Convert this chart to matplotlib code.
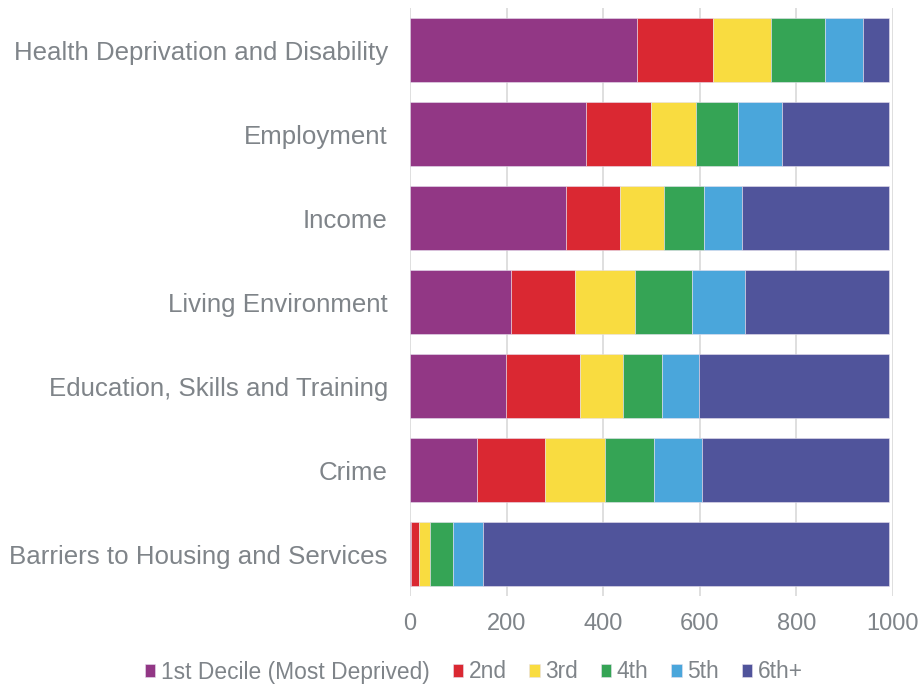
import matplotlib
matplotlib.use("Agg")
import matplotlib.pyplot as plt
import numpy as np

plt.rcParams['font.family'] = ['Liberation Sans', 'DejaVu Sans']

categories = [
    "Health Deprivation and Disability",
    "Employment",
    "Income",
    "Living Environment",
    "Education, Skills and Training",
    "Crime",
    "Barriers to Housing and Services",
]
series_names = ["1st Decile (Most Deprived)", "2nd", "3rd", "4th", "5th", "6th+"]
first = [470, 365, 322, 209, 198, 139, 3]
second = [157, 133, 113, 133, 155, 141, 16]
third = [121, 94, 90, 124, 89, 123, 23]
fourth = [112, 88, 84, 117, 80, 103, 48]
fifth = [78, 90, 78, 110, 76, 99, 61]
sixth_plus = [53, 221, 304, 298, 393, 386, 840]
x_ticks = [0, 200, 400, 600, 800, 1000]

colors = ["#923785", "#DA2832", "#F9DC40", "#35A455", "#4AA6DB", "#50549B"]
text_color = "#7F8489"

fig = plt.figure(figsize=(9.23, 6.84), dpi=100)
W, H = 923, 684
left, right, top, bottom = 410, 893, 8.3, 596.3
ax = fig.add_axes([left / W, 1 - bottom / H, (right - left) / W, (bottom - top) / H])

y = np.arange(len(categories))
series = [first, second, third, fourth, fifth, sixth_plus]
base = np.zeros(len(categories))
for name, vals, col in zip(series_names, series, colors):
    vals = np.array(vals, dtype=float)
    ax.barh(y, vals, left=base, height=0.76, color=col, label=name,
            edgecolor="#E6E0EE", linewidth=0.4, zorder=3)
    base += vals

ax.set_xlim(0, 1000)
ax.set_ylim(len(categories) - 0.5, -0.5)
ax.set_xticks(x_ticks)
ax.set_xticklabels([str(t) for t in x_ticks])
ax.set_yticks(y)
ax.set_yticklabels(categories)
ax.grid(axis="x", color="#D9D9D9", linewidth=1.2, zorder=0)
ax.set_axisbelow(True)
for s in ax.spines.values():
    s.set_visible(False)
ax.tick_params(axis="both", length=0, colors=text_color)
ax.tick_params(axis="y", labelsize=18.6, pad=16)
ax.tick_params(axis="x", labelsize=17, pad=12)

leg = fig.legend(loc="center", bbox_to_anchor=(474 / W, 1 - 672 / H), ncol=6,
                 frameon=False, fontsize=16.4, handlelength=0.45, handleheight=0.45,
                 handletextpad=0.25, columnspacing=1.0, labelcolor=text_color)

fig.savefig("out.png", dpi=100)
